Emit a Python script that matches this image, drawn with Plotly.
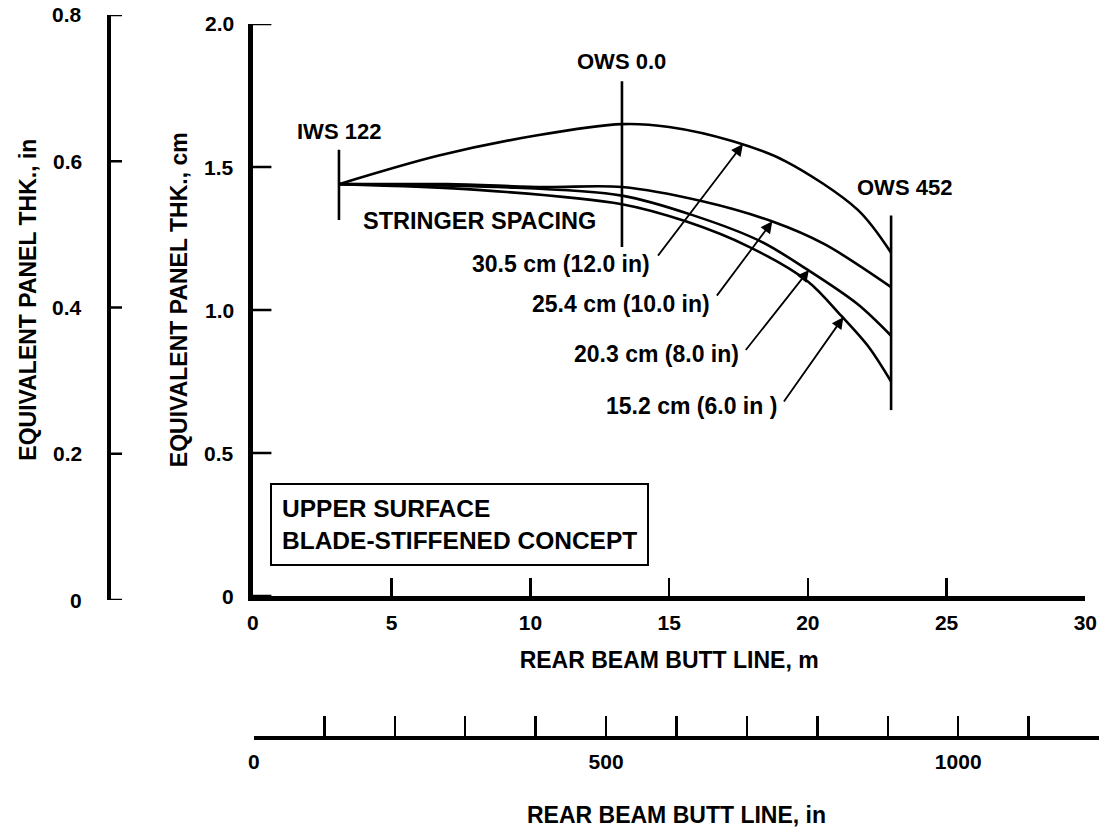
import plotly.graph_objects as go

W, H = 1116, 833

# Equivalent panel thickness (cm) along the rear beam butt line (m), one curve per stringer spacing
bl_305 = [3.1, 6.7, 10.2, 13.3, 15.0, 17.3, 19.2, 21.8, 23.0]
thk_305 = [1.44, 1.54, 1.61, 1.65, 1.64, 1.59, 1.52, 1.35, 1.20]
bl_254 = [3.1, 7.0, 10.5, 13.3, 16.2, 18.7, 20.6, 23.0]
thk_254 = [1.44, 1.44, 1.43, 1.43, 1.38, 1.31, 1.23, 1.08]
bl_203 = [3.1, 8.8, 13.3, 15.9, 18.3, 20.0, 21.8, 23.0]
thk_203 = [1.44, 1.43, 1.40, 1.33, 1.24, 1.14, 1.02, 0.91]
bl_152 = [3.1, 8.1, 13.3, 15.6, 17.9, 20.0, 21.2, 22.2, 23.0]
thk_152 = [1.44, 1.42, 1.37, 1.31, 1.22, 1.10, 0.98, 0.87, 0.75]

spacing_labels = ["30.5 cm (12.0 in)", "25.4 cm (10.0 in)", "20.3 cm (8.0 in)", "15.2 cm (6.0 in )"]

# Wing station markers: butt line (m) and vertical extent (cm)
station_names = ["IWS 122", "OWS 0.0", "OWS 452"]
station_bl = [3.1, 13.3, 23.0]
station_lo = [1.315, 1.22, 0.65]
station_hi = [1.56, 1.80, 1.33]

# Axis ticks
cm_ticks = [0, 0.5, 1.0, 1.5, 2.0]
cm_labels = ["0", "0.5", "1.0", "1.5", "2.0"]
in_ticks = [0, 0.2, 0.4, 0.6, 0.8]
in_labels = ["0", "0.2", "0.4", "0.6", "0.8"]
m_ticks = [0, 5, 10, 15, 20, 25, 30]
m_labels = ["0", "5", "10", "15", "20", "25", "30"]
bl_in_ticks = [0, 100, 200, 300, 400, 500, 600, 700, 800, 900, 1000, 1100, 1200]
bl_in_labels = ["0", "", "", "", "", "500", "", "", "", "", "1000", "", ""]

FONT = "Liberation Sans, Arial, Helvetica, sans-serif"
INK = "black"
CLEAR = "rgba(0,0,0,0)"

CM_SPINE = 250   # px position of the cm scale
IN_SPINE = 105   # px position of the inch scale
CM_DOMAIN = (596, 24)   # px rows of 0 and 2.0 cm
IN_DOMAIN = (600, 15)   # px rows of 0 and 0.8 in


def px_x(p):
    return p / W


def px_y(p):
    return 1 - p / H


def bold(size):
    return dict(family=FONT, size=size, color=INK, weight="bold")


def anchor_trace(xa, ya):
    return go.Scatter(x=[None], y=[None], xaxis=xa, yaxis=ya, mode="markers",
                      marker=dict(opacity=0), showlegend=False, hoverinfo="skip")


def tick_strip(vals, xa, ya):
    # short horizontal tick marks at each scale value, spanning a narrow strip subplot
    xs, ys = [], []
    for v in vals:
        xs += [0, 1, None]
        ys += [v, v, None]
    return go.Scatter(x=xs, y=ys, xaxis=xa, yaxis=ya, mode="lines",
                      line=dict(color=INK, width=2.4), showlegend=False,
                      hoverinfo="skip", cliponaxis=False)


fig = go.Figure()

curves = [(bl_305, thk_305), (bl_254, thk_254), (bl_203, thk_203), (bl_152, thk_152)]
for (xs, ys), name in zip(curves, spacing_labels):
    fig.add_trace(go.Scatter(x=xs, y=ys, mode="lines", name=name,
                             line=dict(color=INK, width=2.6, shape="spline", smoothing=0.9),
                             showlegend=False, hoverinfo="skip", cliponaxis=False))

for name, xb, lo, hi in zip(station_names, station_bl, station_lo, station_hi):
    fig.add_trace(go.Scatter(x=[xb, xb], y=[lo, hi], mode="lines", name=name,
                             line=dict(color=INK, width=2.6),
                             showlegend=False, hoverinfo="skip", cliponaxis=False))

# Anchors for the secondary scales
fig.add_trace(anchor_trace("x", "y2"))
fig.add_trace(anchor_trace("x2", "y"))
# Tick marks beside the cm and inch scales
fig.add_trace(tick_strip(cm_ticks, "x3", "y3"))
fig.add_trace(tick_strip(in_ticks, "x4", "y4"))

ann = []
# Vertical scale titles
ann.append(dict(x=px_x(22), y=px_y(300), xref="paper", yref="paper", textangle=-90,
                xanchor="center", yanchor="middle",
                text="EQUIVALENT PANEL THK., in", showarrow=False, font=bold(23)))
ann.append(dict(x=px_x(176), y=px_y(300), xref="paper", yref="paper", textangle=-90,
                xanchor="center", yanchor="middle",
                text="EQUIVALENT PANEL THK., cm", showarrow=False, font=bold(23)))

# Vertical scale values, placed on each scale's own axis
for v, t in zip(cm_ticks, cm_labels):
    ann.append(dict(x=px_x(CM_SPINE - 16), y=v, xref="paper", yref="y", text=t,
                    xanchor="right", yanchor="middle", showarrow=False, font=bold(21)))
for v, t in zip(in_ticks, in_labels):
    ann.append(dict(x=px_x(IN_SPINE - 26), y=v, xref="paper", yref="y2", text=t,
                    xanchor="right", yanchor="middle", showarrow=False, font=bold(21)))

# Station labels
station_text_pos = [(3.1, 1.625), (13.3, 1.87), (23.5, 1.43)]
for name, (tx, ty) in zip(station_names, station_text_pos):
    ann.append(dict(x=tx, y=ty, xref="x", yref="y", text=name, showarrow=False, font=bold(22)))

ann.append(dict(x=3.9, y=1.31, xref="x", yref="y", text="STRINGER SPACING", showarrow=False,
                xanchor="left", font=bold(23.5)))

# Spacing labels (right aligned) and their leader arrows
label_pos = [(14.4, 1.16), (16.55, 1.02), (17.6, 0.845), (18.95, 0.665)]
arrow_tail = [(14.56, 1.185), (16.68, 1.045), (17.72, 0.855), (19.1, 0.675)]
arrow_head = [(17.66, 1.58), (18.72, 1.31), (20.04, 1.14), (21.28, 0.975)]
for text, (lx, ly), (axx, ayy), (hx, hy) in zip(spacing_labels, label_pos, arrow_tail, arrow_head):
    ann.append(dict(x=lx, y=ly, xref="x", yref="y", text=text, showarrow=False,
                    xanchor="right", font=bold(23)))
    ann.append(dict(x=hx, y=hy, xref="x", yref="y", ax=axx, ay=ayy, axref="x", ayref="y",
                    text="", showarrow=True, arrowhead=2, arrowsize=1.3, arrowwidth=1.8,
                    arrowcolor=INK, standoff=0, startstandoff=0))

ann.append(dict(x=0.6, y=0.25, xref="x", yref="y", xanchor="left", align="left",
                text="UPPER SURFACE<br>BLADE-STIFFENED CONCEPT", showarrow=False,
                bordercolor=INK, borderwidth=2, borderpad=10, bgcolor="white",
                font=bold(24.5)))

plain = dict(showgrid=False, zeroline=False)
tick_style = dict(tickwidth=2.4, tickcolor=INK, **plain)
hidden = dict(visible=False, fixedrange=True, **plain)

fig.update_layout(
    width=W, height=H,
    margin=dict(l=0, r=0, t=0, b=0),
    paper_bgcolor="white", plot_bgcolor=CLEAR,
    showlegend=False,
    annotations=ann,
    xaxis=dict(
        domain=[px_x(CM_SPINE + 1), px_x(1097)], range=[0, 30],
        tickvals=m_ticks, ticktext=m_labels,
        ticks="inside", ticklen=18,
        showline=True, linewidth=5, linecolor=INK,
        ticklabelstandoff=4, tickfont=bold(21),
        title=dict(text="REAR BEAM BUTT LINE, m", standoff=20, font=bold(23)),
        **tick_style,
    ),
    # cm scale (line only; values and ticks drawn alongside)
    yaxis=dict(
        domain=[px_y(CM_DOMAIN[0]), px_y(CM_DOMAIN[1])], range=[0, 2.0],
        showticklabels=False, ticks="",
        showline=True, linewidth=5, linecolor=INK,
        **plain,
    ),
    xaxis3=dict(domain=[px_x(CM_SPINE), px_x(CM_SPINE + 20)], range=[0, 1],
                anchor="y3", **hidden),
    yaxis3=dict(domain=[px_y(CM_DOMAIN[0]), px_y(CM_DOMAIN[1])], range=[0, 2.0],
                anchor="x3", **hidden),
    # inch scale
    yaxis2=dict(
        anchor="free", position=px_x(IN_SPINE),
        domain=[px_y(IN_DOMAIN[0]), px_y(IN_DOMAIN[1])], range=[0, 0.8],
        showticklabels=False, ticks="",
        showline=True, linewidth=4, linecolor=INK,
        **plain,
    ),
    xaxis4=dict(domain=[px_x(IN_SPINE), px_x(IN_SPINE + 13)], range=[0, 1],
                anchor="y4", **hidden),
    yaxis4=dict(domain=[px_y(IN_DOMAIN[0]), px_y(IN_DOMAIN[1])], range=[0, 0.8],
                anchor="x4", **hidden),
    xaxis2=dict(
        anchor="free", position=px_y(738),
        domain=[px_x(252), px_x(1111)], range=[0, 1200],
        tickvals=bl_in_ticks, ticktext=bl_in_labels,
        ticks="inside", ticklen=20,
        showline=True, linewidth=4, linecolor=INK,
        ticklabelstandoff=4, tickfont=bold(21),
        title=dict(text="REAR BEAM BUTT LINE, in", standoff=34, font=bold(23)),
        **tick_style,
    ),
)

fig.write_html("out.html", config={"staticPlot": True})
